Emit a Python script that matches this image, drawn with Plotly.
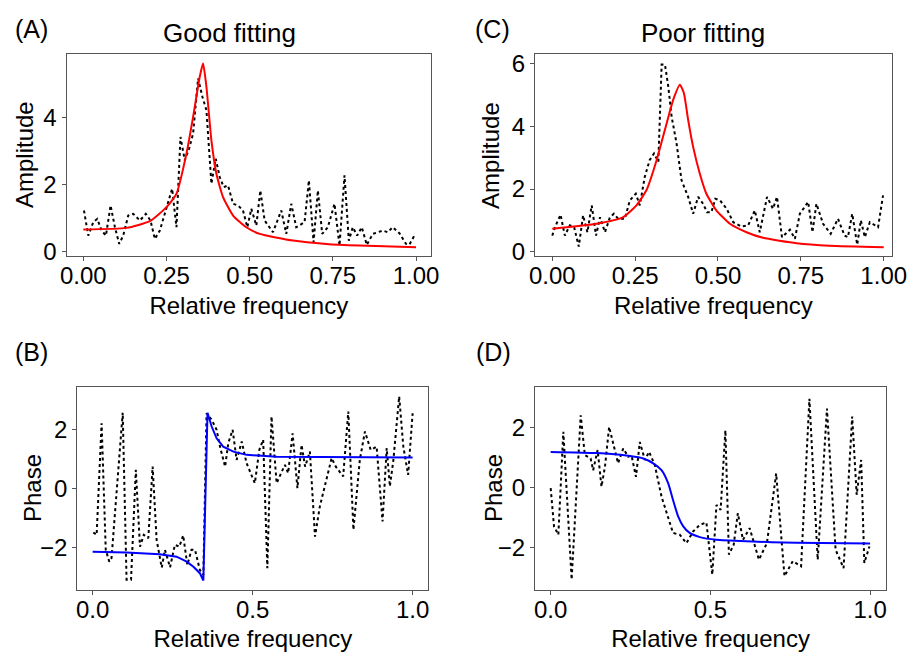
import plotly.graph_objects as go

# (A) good fitting - amplitude
a_x = [0.002, 0.015, 0.03, 0.042, 0.055, 0.068, 0.082, 0.095, 0.108, 0.12, 0.135, 0.15, 0.17, 0.188,
       0.202, 0.215, 0.23, 0.25, 0.267, 0.28, 0.292, 0.305, 0.318, 0.33, 0.345, 0.358, 0.37, 0.385,
       0.398, 0.41, 0.422, 0.435, 0.45, 0.465, 0.48, 0.493, 0.505, 0.52, 0.532, 0.545, 0.57, 0.595,
       0.61, 0.625, 0.64, 0.665, 0.678, 0.692, 0.705, 0.718, 0.735, 0.755, 0.77, 0.785, 0.798, 0.81,
       0.823, 0.837, 0.852, 0.87, 0.9, 0.915, 0.93, 0.95, 0.97, 0.98, 0.995]
a_amp = [1.22, 0.47, 0.87, 0.97, 0.62, 0.47, 1.37, 0.72, 0.22, 0.47, 1.07, 1.12, 0.92, 1.12,
         0.92, 0.37, 0.62, 1.32, 1.87, 0.72, 3.42, 2.72, 3.07, 3.52, 5.17, 4.62, 4.22, 2.02,
         2.77, 2.22, 1.92, 1.97, 1.42, 1.37, 1.22, 0.72, 1.27, 0.77, 1.82, 0.92, 0.57, 1.22,
         0.52, 1.42, 0.72, 0.87, 2.12, 0.27, 1.82, 0.52, 0.72, 1.42, 0.17, 2.27, 0.32, 0.72,
         0.47, 0.72, 0.19, 0.52, 0.62, 0.57, 0.72, 0.54, 0.22, 0.20, 0.47]
a_fit_x = [0.0, 0.13, 0.2, 0.25, 0.28, 0.31, 0.33, 0.35, 0.36, 0.37, 0.385, 0.4, 0.42, 0.45,
           0.49, 0.53, 0.63, 0.73, 0.83, 1.0]
a_fit = [0.65, 0.70, 0.90, 1.32, 1.72, 2.92, 4.02, 5.22, 5.62, 4.92, 3.32, 2.32, 1.62, 1.07,
         0.72, 0.52, 0.32, 0.22, 0.17, 0.12]

# (C) poor fitting - amplitude
c_x = [0.0, 0.008, 0.025, 0.038, 0.053, 0.066, 0.08, 0.093, 0.106, 0.119, 0.132, 0.144, 0.159,
       0.174, 0.186, 0.199, 0.219, 0.234, 0.252, 0.264, 0.279, 0.294, 0.307, 0.32, 0.33, 0.34,
       0.35, 0.36, 0.375, 0.39, 0.41, 0.425, 0.44, 0.455, 0.467, 0.48, 0.492, 0.506, 0.526, 0.546,
       0.571, 0.591, 0.611, 0.626, 0.648, 0.666, 0.678, 0.693, 0.717, 0.732, 0.747, 0.772, 0.785,
       0.797, 0.817, 0.84, 0.862, 0.882, 0.892, 0.905, 0.92, 0.931, 0.943, 0.958, 0.983, 0.998]
c_amp = [0.51, 0.78, 1.18, 0.51, 0.84, 0.78, 0.16, 1.16, 0.62, 1.48, 0.51, 1.10, 0.62,
         1.10, 1.21, 1.05, 1.05, 1.64, 1.85, 1.48, 2.39, 2.93, 3.14, 2.87, 5.98, 5.98,
         5.28, 4.32, 3.46, 2.28, 1.75, 1.21, 1.75, 1.53, 1.26, 1.26, 1.69, 1.64, 1.37, 0.94,
         0.80, 0.84, 1.32, 0.62, 1.75, 1.37, 1.75, 0.46, 0.70, 0.41, 1.21, 1.59, 0.62,
         1.53, 0.89, 0.57, 1.05, 0.51, 0.46, 1.21, 0.22, 1.00, 0.46, 0.94, 0.78, 1.80]
c_fit_x = [0.0, 0.134, 0.214, 0.254, 0.284, 0.315, 0.345, 0.365, 0.385, 0.397, 0.41, 0.425,
           0.445, 0.465, 0.495, 0.536, 0.586, 0.636, 0.737, 0.837, 1.0]
c_fit = [0.73, 0.89, 1.10, 1.48, 1.96, 2.93, 4.10, 4.86, 5.34, 5.07, 4.21, 3.35,
         2.50, 1.85, 1.32, 0.89, 0.62, 0.44, 0.27, 0.19, 0.14]

# (B) good fitting - phase
b_x = [0.002, 0.0125, 0.028, 0.041, 0.052, 0.059, 0.094, 0.106, 0.12, 0.135, 0.148, 0.16, 0.174,
       0.1875, 0.2, 0.216, 0.226, 0.242, 0.257, 0.271, 0.283, 0.296, 0.309, 0.32, 0.335, 0.346,
       0.356, 0.372, 0.3875, 0.398, 0.414, 0.424, 0.4375, 0.45, 0.466, 0.481, 0.507, 0.521, 0.533,
       0.546, 0.559, 0.575, 0.591, 0.601, 0.611, 0.625, 0.64, 0.653, 0.664, 0.679, 0.695, 0.71,
       0.747, 0.76, 0.783, 0.799, 0.815, 0.835, 0.851, 0.869, 0.8875, 0.906, 0.919, 0.929, 0.94,
       0.958, 0.971, 0.986, 1.0]
b_phase = [-1.50, -1.58, 2.20, -2.09, -2.49, -2.37, 2.56, -3.10, -3.10, 0.62, -1.98, -1.58, -1.69,
           0.73, -1.75, -2.69, -2.09, -2.68, -1.92, -1.98, -1.60, -2.60, -2.09, -2.09, -2.77, -2.94,
           2.54, 2.32, 1.98, 1.41, 0.73, 1.53, 1.98, 0.96, 1.58, 0.85, 0.17, 1.30, 1.64,
           -2.71, 2.43, 0.17, 0.56, 0.79, 0.51, 1.86, 0.00, 1.47, 0.73, 1.24, -1.64, -0.62,
           1.02, 0.73, 0.40, 2.60, -1.41, 0.96, 1.92, 1.30, 1.41, -1.13, 1.36, 0.06, 0.96,
           3.11, 1.41, 0.45, 2.54]
b_fit_x = [0.0, 0.106, 0.21, 0.2625, 0.294, 0.315, 0.335, 0.346, 0.359, 0.372, 0.3875, 0.408,
           0.44, 0.481, 0.575, 0.731, 1.0]
b_fit = [-2.15, -2.18, -2.24, -2.32, -2.49, -2.66, -2.88, -3.13, 2.56, 2.09, 1.69, 1.41,
         1.24, 1.13, 1.07, 1.05, 1.04]

# (D) poor fitting - phase
d_x = [0.0, 0.0104, 0.024, 0.0396, 0.0656, 0.094, 0.107, 0.125, 0.133, 0.147, 0.159, 0.17, 0.183,
       0.196, 0.211, 0.227, 0.243, 0.253, 0.267, 0.279, 0.295, 0.308, 0.326, 0.347, 0.383, 0.404,
       0.425, 0.446, 0.467, 0.4875, 0.506, 0.519, 0.532, 0.547, 0.558, 0.573, 0.586, 0.602, 0.623,
       0.652, 0.677, 0.706, 0.732, 0.758, 0.769, 0.784, 0.81, 0.836, 0.865, 0.892, 0.917, 0.944,
       0.958, 0.972, 0.982, 0.998]
d_phase = [-0.03, -1.30, -1.58, 1.85, -3.07, 2.40, 1.07, 0.96, 0.57, 1.24, 0.02, 0.69, 2.01,
           1.40, 0.80, 1.29, 1.02, 1.07, 0.35, 1.51, 0.91, 1.18, 0.74, -0.31, -1.52, -1.58,
           -1.86, -1.47, -1.25, -1.17, -2.91, -0.59, -0.75, 1.90, -2.24, -1.91, -0.86, -1.75, -1.36,
           -2.41, -1.86, 0.46, -2.96, -2.46, -2.52, -2.63, 2.95, -2.41, 2.62, -2.08, -2.69, 2.36,
           -0.25, 0.91, -2.52, -1.97]
d_fit_x = [0.0, 0.144, 0.248, 0.29, 0.321, 0.347, 0.368, 0.383, 0.399, 0.415, 0.435, 0.467,
           0.519, 0.6125, 0.769, 1.0]
d_fit = [1.18, 1.14, 1.04, 0.96, 0.80, 0.57, 0.13, -0.42, -0.97, -1.30, -1.52, -1.66,
         -1.75, -1.80, -1.85, -1.87]

FONT = "Arial, Liberation Sans, sans-serif"
dots = dict(color="black", width=2, dash="dot")

fig = go.Figure()
fig.add_trace(go.Scatter(x=a_x, y=a_amp, mode="lines", line=dots, xaxis="x", yaxis="y"))
fig.add_trace(go.Scatter(x=a_fit_x, y=a_fit, mode="lines", line=dict(color="red", width=2, shape="spline", smoothing=0.5),
                         xaxis="x", yaxis="y"))
fig.add_trace(go.Scatter(x=c_x, y=c_amp, mode="lines", line=dots, xaxis="x2", yaxis="y2"))
fig.add_trace(go.Scatter(x=c_fit_x, y=c_fit, mode="lines", line=dict(color="red", width=2, shape="spline", smoothing=0.5),
                         xaxis="x2", yaxis="y2"))
fig.add_trace(go.Scatter(x=b_x, y=b_phase, mode="lines", line=dots, xaxis="x3", yaxis="y3"))
fig.add_trace(go.Scatter(x=b_fit_x, y=b_fit, mode="lines", line=dict(color="blue", width=2),
                         xaxis="x3", yaxis="y3"))
fig.add_trace(go.Scatter(x=d_x, y=d_phase, mode="lines", line=dots, xaxis="x4", yaxis="y4"))
fig.add_trace(go.Scatter(x=d_fit_x, y=d_fit, mode="lines", line=dict(color="blue", width=2, shape="spline", smoothing=0.5),
                         xaxis="x4", yaxis="y4"))

ax = dict(showline=True, mirror=True, linecolor="#555", linewidth=1.3, ticks="outside", ticklen=4,
          tickcolor="#555", showgrid=False, zeroline=False, automargin=False, ticklabeloverflow="allow",
          tickfont=dict(size=24, color="black", family=FONT))
xax = dict(ax, ticklabelstandoff=-6)
xt = dict(text="Relative frequency", font=dict(size=24, color="black", family=FONT), standoff=9)

fig.update_layout(
    width=907, height=652, showlegend=False,
    margin=dict(l=0, r=0, t=0, b=0),
    paper_bgcolor="white", plot_bgcolor="white",
    font=dict(family=FONT, color="black"),
    xaxis=dict(xax, domain=[0.0735, 0.4752], range=[-0.05, 1.045], anchor="y",
               tickvals=[0, 0.25, 0.5, 0.75, 1.0], tickformat=".2f", title=xt),
    yaxis=dict(ax, domain=[0.6074, 0.9172], range=[-0.14, 5.9], anchor="x", tickvals=[0, 2, 4]),
    xaxis2=dict(xax, domain=[0.5899, 0.9831], range=[-0.052, 1.024], anchor="y2",
                tickvals=[0, 0.25, 0.5, 0.75, 1.0], tickformat=".2f", title=xt),
    yaxis2=dict(ax, domain=[0.6074, 0.9172], range=[-0.14, 6.32], anchor="x2", tickvals=[0, 2, 4, 6]),
    xaxis3=dict(xax, domain=[0.0852, 0.4722], range=[-0.048, 1.049], anchor="y3",
                tickvals=[0, 0.5, 1.0], tickformat=".1f", title=xt),
    yaxis3=dict(ax, domain=[0.0951, 0.4060], range=[-3.45, 3.42], anchor="x3", tickvals=[-2, 0, 2]),
    xaxis4=dict(xax, domain=[0.5899, 0.9769], range=[-0.049, 1.05], anchor="y4",
                tickvals=[0, 0.5, 1.0], tickformat=".1f", title=xt),
    yaxis4=dict(ax, domain=[0.0951, 0.4064], range=[-3.42, 3.34], anchor="x4", tickvals=[-2, 0, 2]),
)

labels = [
    ("(A)", 0.014, 0.9555, "left", 25), ("Good fitting", 0.2525, 0.9494, "center", 26),
    ("(C)", 0.5215, 0.9555, "left", 25), ("Poor fitting", 0.7751, 0.9494, "center", 26),
    ("(B)", 0.014, 0.4601, "left", 25), ("(D)", 0.5226, 0.4601, "left", 25),
]
for text, x, y, xa, size in labels:
    fig.add_annotation(text=text, x=x, y=y, xref="paper", yref="paper", xanchor=xa, yanchor="middle",
                       showarrow=False, font=dict(size=size, color="black", family=FONT))

ytitles = [("Amplitude", 0.0276, 0.7623), ("Amplitude", 0.5413, 0.7623),
           ("Phase", 0.0353, 0.2515), ("Phase", 0.5436, 0.2515)]
for text, x, y in ytitles:
    fig.add_annotation(text=text, x=x, y=y, xref="paper", yref="paper", xanchor="center", yanchor="middle",
                       textangle=-90, showarrow=False, font=dict(size=24, color="black", family=FONT))

# drop the default 8px body margin so the 907x652 figure fills the window exactly
fig.write_html("out.html", config={"displayModeBar": False},
               post_script="document.body.style.margin = '0';")
